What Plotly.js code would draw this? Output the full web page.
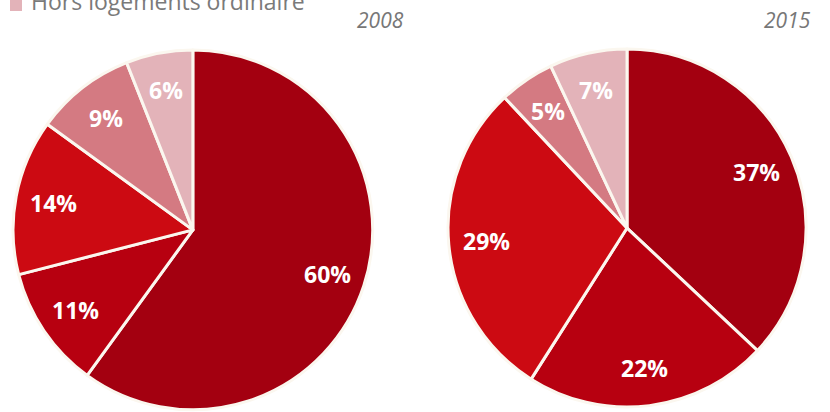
<!DOCTYPE html>
<html>
<head>
<meta charset="utf-8">
<script src="https://cdn.plot.ly/plotly-3.0.1.min.js"></script>
<style>html,body{margin:0;padding:0;background:#fff;}#chart{width:830px;height:412px;}</style>
</head>
<body>
<div id="chart"></div>
<script>
const categories = ["Catégorie 1", "Catégorie 2", "Catégorie 3", "Catégorie 4", "Hors logements ordinaire"];
const values2008 = [60, 11, 14, 9, 6];
const values2015 = [37, 22, 29, 5, 7];
const years = ["2008", "2015"];
const legendLabel = "Hors logements ordinaire";
const colors = ["#A30010", "#B70010", "#CC0A12", "#D47A82", "#E3B3B9"];

const W = 830, H = 412;
const domains = [
  {x: [0.0157, 0.449], y: [0.005, 0.879]},
  {x: [0.5398, 0.9711], y: [0.012, 0.881]}
];

function pie(vals, dom) {
  return {
    type: "pie",
    labels: categories,
    values: vals,
    sort: false,
    direction: "clockwise",
    rotation: 0,
    domain: dom,
    marker: {colors: colors, line: {color: "#FBF7EF", width: 3}},
    textinfo: "none",
    hoverinfo: "label+value",
    showlegend: false
  };
}

// slice labels placed along each slice's mid-angle, at 0.79 of the radius
function sliceLabels(vals, dom) {
  const total = vals.reduce((a, b) => a + b, 0);
  const cx = (dom.x[0] + dom.x[1]) / 2, cy = (dom.y[0] + dom.y[1]) / 2;
  const R = Math.min((dom.x[1] - dom.x[0]) * W, (dom.y[1] - dom.y[0]) * H) / 2;
  let cum = 0;
  return vals.map(v => {
    const mid = (cum + v / 2) / total * 2 * Math.PI;
    cum += v;
    const r = 0.79 * R;
    return {
      text: v + "%", xref: "paper", yref: "paper", showarrow: false,
      x: cx + r * Math.sin(mid) / W, y: cy + r * Math.cos(mid) / H,
      xanchor: "center", yanchor: "middle",
      font: {family: "Open Sans, sans-serif", size: 23, color: "#FFFFFF", weight: "bold"}
    };
  });
}

const data = [pie(values2008, domains[0]), pie(values2015, domains[1])];

const layout = {
  width: W, height: H,
  margin: {l: 0, r: 0, t: 0, b: 0},
  paper_bgcolor: "#FFFFFF",
  showlegend: false,
  shapes: [{type: "rect", xref: "paper", yref: "paper", x0: 10/W, x1: 22/W, y0: 1 - 11/H, y1: 1.01, fillcolor: colors[4], line: {width: 0}}],
  annotations: [
    {text: legendLabel, xref: "paper", yref: "paper", x: 29/W, y: 1 - 1/H, xanchor: "left", yanchor: "middle", showarrow: false,
     font: {family: "Open Sans, sans-serif", size: 23, color: "#7A7A7A"}},
    {text: years[0], xref: "paper", yref: "paper", x: 406/W, y: 1 - 20/H, xanchor: "right", yanchor: "middle", showarrow: false,
     font: {family: "Open Sans, sans-serif", size: 21, color: "#777777", style: "italic"}},
    {text: years[1], xref: "paper", yref: "paper", x: 813/W, y: 1 - 20/H, xanchor: "right", yanchor: "middle", showarrow: false,
     font: {family: "Open Sans, sans-serif", size: 21, color: "#777777", style: "italic"}}
  ].concat(sliceLabels(values2008, domains[0]), sliceLabels(values2015, domains[1]))
};

Plotly.newPlot("chart", data, layout, {displayModeBar: false, staticPlot: true});
</script>
</body>
</html>
